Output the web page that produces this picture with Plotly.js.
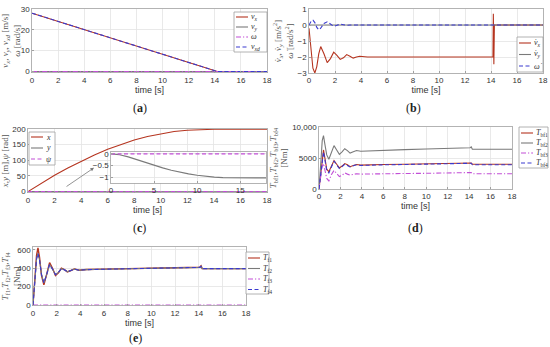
<!DOCTYPE html>
<html><head><meta charset="utf-8">
<script src="https://cdn.plot.ly/plotly-3.0.1.min.js"></script>
<style>html,body{margin:0;padding:0;background:#fff}#c{width:550px;height:347px}</style>
</head><body><div id="c"></div>
<script>
// ---------- data ----------
// (a) velocities
const tA = [0, 14.2, 18];
const vX = [28, 0, 0];
const vY = [0, 0, 0];
const omA = [0, 0, 0];
const vXd = [28, 0, 0];

// (b) accelerations
const tB = [0, 0.1, 0.2, 0.3, 0.45, 0.6, 0.75, 0.9, 1.15, 1.4, 1.65, 1.9, 2.15, 2.4, 2.65, 2.9, 3.15, 3.4, 3.65, 3.9, 4.5, 6, 8, 10, 12, 14.15, 14.18, 14.22, 14.26, 16, 18];
const aX = [-0.2, -1.2, -2.1, -2.7, -3.0, -2.6, -1.8, -1.35, -1.8, -2.35, -2.1, -1.7, -1.9, -2.15, -2.05, -1.85, -1.95, -2.07, -2.0, -1.95, -2.0, -2.0, -2.0, -2.0, -2.0, -2.0, 0.7, -2.45, 0, 0, 0];
const aY = [0, 0, 0, 0, 0, 0, 0, 0, 0, 0, 0, 0, 0, 0, 0, 0, 0, 0, 0, 0, 0, 0, 0, 0, 0, 0, 0, 0, 0, 0, 0];
const omDot = [0, 0.15, 0.28, 0.3, 0.15, -0.15, -0.3, -0.2, 0.1, 0.2, 0.05, -0.08, -0.02, 0.06, 0.02, -0.02, 0, 0, 0, 0, 0, 0, 0, 0, 0, 0, 0, 0, 0, 0, 0];

// (c) positions
const tC = [0, 1, 2, 3, 4, 5, 6, 7, 8, 9, 10, 11, 12, 13, 14, 15, 16, 17, 18];
const posX = [0, 27, 52, 75, 97, 117, 135, 151, 165, 176, 185, 192, 196, 198.5, 199, 199, 199, 199, 199];
const posY = [0, -0.04, -0.13, -0.25, -0.38, -0.5, -0.6, -0.7, -0.79, -0.86, -0.92, -0.97, -1.0, -1.02, -1.03, -1.03, -1.03, -1.03, -1.03];
const psi = [0, 0, 0, 0, 0, 0, 0, 0, 0, 0, 0, 0, 0, 0, 0, 0, 0, 0, 0];

// (d) braking torques
const tD = [0, 0.1, 0.2, 0.3, 0.42, 0.55, 0.72, 0.92, 1.15, 1.4, 1.65, 1.9, 2.15, 2.4, 2.65, 2.9, 3.2, 3.5, 3.9, 4.5, 6, 8, 10, 12, 14.1, 14.2, 14.3, 18];
const Tbf1 = [0, 1500, 3500, 5500, 6300, 5000, 3200, 2800, 3800, 4600, 4000, 3400, 3700, 4100, 3900, 3600, 3800, 3950, 3850, 3900, 3950, 4000, 4050, 4080, 4100, 4200, 4000, 4000];
const Tbf2 = [0, 2000, 5000, 7800, 8600, 7200, 5500, 4800, 6000, 7000, 6300, 5600, 6000, 6500, 6200, 5800, 6000, 6200, 6100, 6150, 6250, 6350, 6450, 6550, 6650, 6800, 6400, 6400];
const Tbf3 = [0, 1000, 2500, 3700, 4100, 3000, 1700, 1300, 2300, 3000, 2500, 2000, 2200, 2600, 2400, 2250, 2350, 2450, 2400, 2400, 2450, 2500, 2530, 2560, 2600, 2650, 2450, 2450];
const Tbf4 = [0, 1400, 3300, 5200, 6000, 4700, 3000, 2600, 3600, 4500, 3900, 3300, 3600, 4000, 3800, 3550, 3750, 3900, 3800, 3850, 3900, 3950, 4000, 4030, 4050, 4150, 3900, 3900];

// (e) wheel torques
const tE = [0, 0.1, 0.2, 0.3, 0.42, 0.55, 0.72, 0.92, 1.15, 1.4, 1.65, 1.9, 2.15, 2.4, 2.65, 2.9, 3.2, 3.5, 3.9, 4.5, 6, 8, 10, 12, 14.1, 14.2, 14.3, 18];
const Tf1 = [0, 150, 350, 540, 620, 520, 320, 220, 330, 460, 400, 320, 350, 400, 385, 360, 375, 392, 378, 385, 390, 395, 400, 405, 410, 425, 395, 395];
const Tf2 = [0, 140, 330, 500, 560, 490, 330, 240, 330, 440, 390, 330, 355, 395, 382, 362, 375, 390, 378, 384, 389, 394, 399, 404, 409, 420, 395, 395];
const Tf3 = [0, 0, 0, 0, 0, 0, 0, 0, 0, 0, 0, 0, 0, 0, 0, 0, 0, 0, 0, 0, 0, 0, 0, 0, 0, 0, 0, 0];
const Tf4 = [0, 140, 330, 500, 560, 490, 330, 240, 330, 440, 390, 330, 355, 395, 382, 362, 375, 390, 378, 384, 389, 394, 399, 404, 409, 420, 395, 395];

const timeTicks = [0, 2, 4, 6, 8, 10, 12, 14, 16, 18];

// ---------- styling ----------
const W = 550, H = 347;
const PX = x => x / W, PY = y => 1 - y / H;
const C1 = '#b5341f', C2 = '#7a7a7a', C3 = '#c24fd6', C4 = '#3a3acf';
const DASH = '4px,2.5px', DASHDOT = '5px,2px,1.2px,2px';
const SERIF = 'Liberation Serif, DejaVu Serif, serif';
const SANS = 'Liberation Sans, Arial, sans-serif';

function ln(color, dash, w) { return {color: color, width: w || 1.1, dash: dash || 'solid'}; }
function tr(x, y, xa, ya, color, dash, w) {
  return {x: x, y: y, xaxis: xa, yaxis: ya, type: 'scatter', mode: 'lines', line: ln(color, dash, w), showlegend: false, hoverinfo: 'skip'};
}
function axis(dom, range, extra) {
  return Object.assign({
    domain: dom, range: range, showgrid: true, gridcolor: '#e4e4e4', gridwidth: 0.8,
    zeroline: false, showline: true, linecolor: '#a0a0a0', linewidth: 0.8, mirror: true,
    ticks: 'inside', ticklen: 2, tickcolor: '#a0a0a0',
    tickfont: {size: 8, family: SANS, color: '#333'}
  }, extra || {});
}
function xt() { return {text: 'time [s]', font: {size: 9, family: SANS, color: '#333'}, standoff: 1}; }
function yt(t, s) { return {text: t, font: {size: s || 9, family: SERIF, color: '#555'}, standoff: 2}; }

const data = [
  tr(tA, vX, 'x', 'y', C1),
  tr(tA, vY, 'x', 'y', C2),
  tr(tA, omA, 'x', 'y', C3, DASHDOT),
  tr(tA, vXd, 'x', 'y', C4, DASH),

  tr(tB, aX, 'x2', 'y2', C1),
  tr(tB, aY, 'x2', 'y2', C2),
  tr(tB, omDot, 'x2', 'y2', C4, DASH),

  tr(tC, posX, 'x3', 'y3', C1),
  tr(tC, posY, 'x3', 'y3', C2),
  tr(tC, psi, 'x3', 'y3', C3, DASH),

  tr(tD, Tbf1, 'x4', 'y4', C1),
  tr(tD, Tbf2, 'x4', 'y4', C2),
  tr(tD, Tbf3, 'x4', 'y4', C3, DASHDOT),
  tr(tD, Tbf4, 'x4', 'y4', C4, DASH),

  tr(tE, Tf1, 'x5', 'y5', C1, 'solid', 1.4),
  tr(tE, Tf2, 'x5', 'y5', C2),
  tr(tE, Tf3, 'x5', 'y5', C3, DASHDOT),
  tr(tE, Tf4, 'x5', 'y5', C4, DASH),

  tr(tC, posY, 'x6', 'y6', C2),
  tr(tC, psi, 'x6', 'y6', C3, DASH)
];

const shapes = [], annotations = [];
function legendBox(x0, y0, x1, y1, items) {
  shapes.push({type: 'rect', xref: 'paper', yref: 'paper', x0: PX(x0), x1: PX(x1), y0: PY(y0), y1: PY(y1),
    line: {color: '#a0a0a0', width: 0.8}, fillcolor: '#fff', layer: 'above'});
  items.forEach(function (it) {
    shapes.push({type: 'line', xref: 'paper', yref: 'paper', x0: PX(x0 + 2), x1: PX(x0 + 14), y0: PY(it.y), y1: PY(it.y),
      line: ln(it.c, it.d, 1.1), layer: 'above'});
    annotations.push({xref: 'paper', yref: 'paper', x: PX(x0 + 15), y: PY(it.y), xanchor: 'left', yanchor: 'middle',
      text: it.t, showarrow: false, font: {size: 8, family: SERIF, color: '#333'}});
  });
}
legendBox(234, 12, 267, 52, [
  {y: 17, c: C1, t: '<i>v<sub>x</sub></i>'},
  {y: 27, c: C2, t: '<i>v<sub>y</sub></i>'},
  {y: 37, c: C3, d: DASHDOT, t: '<i>ω</i>'},
  {y: 47, c: C4, d: DASH, t: '<i>v<sub>xd</sub></i>'}
]);
legendBox(517, 37, 543, 72, [
  {y: 43, c: C1, t: '<i>v̇<sub>x</sub></i>'},
  {y: 54.5, c: C2, t: '<i>v̇<sub>y</sub></i>'},
  {y: 66, c: C4, d: DASH, t: '<i>ω̇</i>'}
]);
legendBox(29, 132, 55, 165, [
  {y: 137, c: C1, t: '<i>x</i>'},
  {y: 148, c: C2, t: '<i>y</i>'},
  {y: 159, c: C3, d: DASH, t: '<i>ψ</i>'}
]);
legendBox(519, 127, 548, 168, [
  {y: 133, c: C1, t: '<i>T</i><sub>bf1</sub>'},
  {y: 143, c: C2, t: '<i>T</i><sub>bf2</sub>'},
  {y: 153, c: C3, d: DASHDOT, t: '<i>T</i><sub>bf3</sub>'},
  {y: 163, c: C4, d: DASH, t: '<i>T</i><sub>bf4</sub>'}
]);
legendBox(246, 252, 269, 294, [
  {y: 258, c: C1, t: '<i>T</i><sub>f1</sub>'},
  {y: 268.5, c: C2, t: '<i>T</i><sub>f2</sub>'},
  {y: 279, c: C3, d: DASHDOT, t: '<i>T</i><sub>f3</sub>'},
  {y: 289.5, c: C4, d: DASH, t: '<i>T</i><sub>f4</sub>'}
]);

function panelLabel(x, y, L) {
  annotations.push({xref: 'paper', yref: 'paper', x: PX(x), y: PY(y), xanchor: 'center', yanchor: 'middle',
    text: '(<b>' + L + '</b>)', showarrow: false, font: {size: 12, family: SERIF, color: '#222'}});
}
panelLabel(140, 108, 'a');
panelLabel(413, 108, 'b');
panelLabel(140, 228, 'c');
panelLabel(415, 228, 'd');
panelLabel(135, 338, 'e');

annotations.push({xref: 'x3', yref: 'y3', axref: 'x3', ayref: 'y3', x: 4.97, y: 76, ax: 2.79, ay: 13,
  text: '', showarrow: true, arrowhead: 2, arrowsize: 0.9, arrowwidth: 0.8, arrowcolor: '#777'});

const layout = {
  width: W, height: H, margin: {l: 0, r: 0, t: 0, b: 0},
  paper_bgcolor: '#fff', plot_bgcolor: '#fff', showlegend: false,
  xaxis: axis([PX(32), PX(267)], [0, 18], {anchor: 'y', tickvals: timeTicks, title: xt()}),
  yaxis: axis([PY(72.5), PY(9)], [-0.5, 30], {anchor: 'x', tickvals: [0, 10, 20, 30],
    title: yt('<i>v<sub>x</sub></i>, <i>v<sub>y</sub></i>, <i>v<sub>xd</sub></i> [m/s]<br><i>ω</i> [rad/s]')}),
  xaxis2: axis([PX(309), PX(543)], [0, 18], {anchor: 'y2', tickvals: timeTicks, title: xt()}),
  yaxis2: axis([PY(73), PY(9)], [-3, 1], {anchor: 'x2', tickvals: [-3, -2, -1, 0, 1],
    title: yt('<i>v̇<sub>x</sub></i>, <i>v̇<sub>y</sub></i> [m/s<sup>2</sup>]<br><i>ω̇</i> [rad/s<sup>2</sup>]')}),
  xaxis3: axis([PX(28), PX(267)], [0, 18], {anchor: 'y3', tickvals: timeTicks, title: xt()}),
  yaxis3: axis([PY(192.5), PY(129)], [-3, 200], {anchor: 'x3', tickvals: [0, 50, 100, 150, 200],
    title: yt('<i>x</i>,<i>y</i> [m],<i>ψ</i> [rad]')}),
  xaxis4: axis([PX(319), PX(512)], [0, 18], {anchor: 'y4', tickvals: timeTicks, title: xt()}),
  yaxis4: axis([PY(189), PY(127)], [0, 10000], {anchor: 'x4', tickvals: [0, 5000, 10000], ticktext: ['0', '5000', '10,000'],
    title: yt('<i>T</i><sub>bf1</sub>,<i>T</i><sub>bf2</sub>,<i>T</i><sub>bf3</sub>,<i>T</i><sub>bf4</sub><br>[Nm]')}),
  xaxis5: axis([PX(33), PX(246)], [0, 18], {anchor: 'y5', tickvals: timeTicks, title: xt()}),
  yaxis5: axis([PY(305.5), PY(247)], [-5, 630], {anchor: 'x5', tickvals: [0, 200, 400, 600],
    title: yt('<i>T</i><sub>f1</sub>,<i>T</i><sub>f2</sub>,<i>T</i><sub>f3</sub>,<i>T</i><sub>f4</sub><br>[Nm]')}),
  xaxis6: axis([PX(111), PX(266)], [0, 18], {anchor: 'y6', tickvals: [0, 5, 10, 15]}),
  yaxis6: axis([PY(183), PY(152)], [-1.25, 0.08], {anchor: 'x6', tickvals: [-1, -0.5, 0]}),
  shapes: shapes, annotations: annotations
};

Plotly.newPlot('c', data, layout, {staticPlot: true, displayModeBar: false});
</script>
</body></html>
